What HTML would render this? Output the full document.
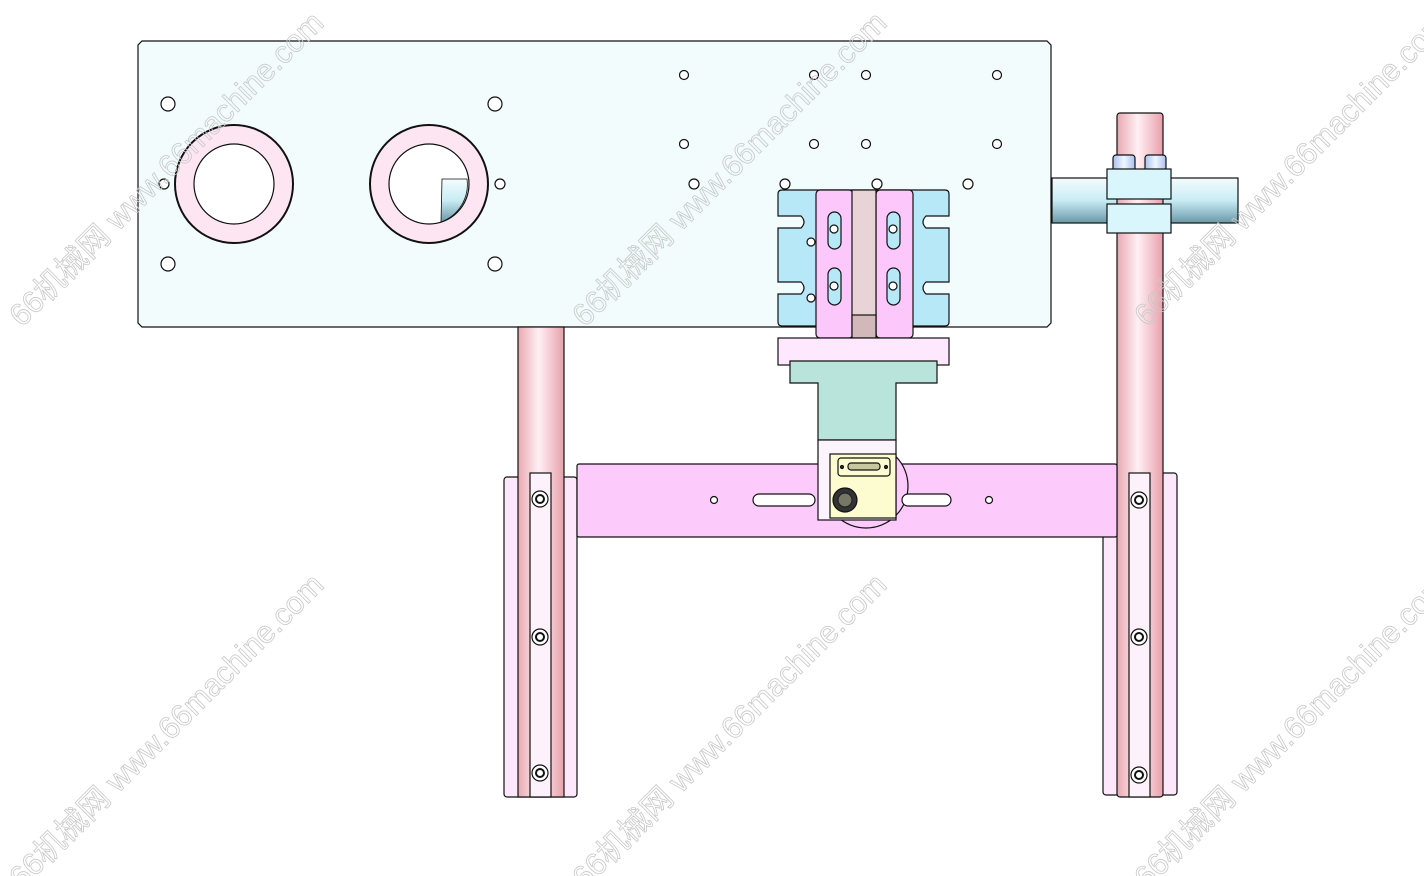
<!DOCTYPE html>
<html><head><meta charset="utf-8"><style>
html,body{margin:0;padding:0;background:#fff;width:1424px;height:876px;overflow:hidden}
svg{display:block}
.wm{font-family:"Liberation Sans","Noto Sans CJK SC",sans-serif;font-size:31px;fill:none;stroke:#c8c8c8;stroke-width:0.8}
</style></head><body>
<svg width="1424" height="876" viewBox="0 0 1424 876" xmlns="http://www.w3.org/2000/svg">
<defs>
<linearGradient id="pk" x1="0" x2="1"><stop offset="0" stop-color="#e8a8b0"/><stop offset="0.45" stop-color="#fff0f4"/><stop offset="1" stop-color="#e8a0ac"/></linearGradient>
<linearGradient id="cy" x1="0" y1="0" x2="0" y2="1"><stop offset="0" stop-color="#f4fcfe"/><stop offset="0.5" stop-color="#c8ecf4"/><stop offset="1" stop-color="#6a98a8"/></linearGradient>
<linearGradient id="bl" x1="0" x2="1"><stop offset="0" stop-color="#a8c0f0"/><stop offset="0.5" stop-color="#f0f8ff"/><stop offset="1" stop-color="#a8c0f0"/></linearGradient>
</defs>
<g stroke="#111" stroke-width="1.2">
<path d="M142 41 H1047 L1051 45 V323 L1047 327 H142 L138 323 V45 Z" fill="#f2fcfd"/>
<g fill="#fff">
<circle cx="168" cy="104" r="7"/><circle cx="495" cy="104" r="7"/><circle cx="168" cy="264" r="7"/><circle cx="495" cy="264" r="7"/>
<circle cx="164" cy="184" r="5"/><circle cx="500" cy="184" r="5"/>
<circle cx="684" cy="75" r="4.5"/><circle cx="814" cy="75" r="4.5"/><circle cx="866" cy="75" r="4.5"/><circle cx="997" cy="75" r="4.5"/>
<circle cx="684" cy="144" r="4.5"/><circle cx="814" cy="144" r="4.5"/><circle cx="866" cy="144" r="4.5"/><circle cx="997" cy="144" r="4.5"/>
<circle cx="694" cy="184" r="5"/><circle cx="785" cy="184" r="5"/><circle cx="877" cy="184" r="5"/><circle cx="968" cy="184" r="5"/>
</g>
<circle cx="234" cy="184" r="59" fill="#fde6f2" stroke-width="2"/><circle cx="234" cy="184" r="40" fill="#fff"/>
<circle cx="429" cy="184" r="59" fill="#fde6f2" stroke-width="2"/><circle cx="429" cy="184" r="40" fill="#fff"/>
<path d="M442 179 H467 A40 40 0 0 1 441 222 Z" fill="url(#cy)" stroke-width="0.8"/>
<rect x="1052" y="178" width="186" height="45" fill="url(#cy)"/>
<rect x="504" y="477" width="73" height="320" rx="3" fill="#fde8fb"/>
<rect x="518" y="327" width="46" height="470" fill="url(#pk)"/>
<rect x="530" y="473" width="21" height="324" fill="#fdf2fb"/>
<rect x="1103" y="473" width="74" height="322" rx="3" fill="#fde8fb"/>
<rect x="1117" y="113" width="46" height="684" rx="3" fill="url(#pk)"/>
<rect x="1129" y="473" width="21" height="324" fill="#fdf2fb"/>
<rect x="1113" y="155" width="22" height="16" rx="3" fill="url(#bl)"/><rect x="1145" y="155" width="21" height="16" rx="3" fill="url(#bl)"/>
<rect x="1107" y="169" width="64" height="30" fill="#d8f6fc"/>
<rect x="1107" y="204" width="64" height="29" fill="#d8f6fc"/>
<g fill="#fff"><circle cx="540" cy="499" r="8"/><circle cx="540" cy="637" r="8"/><circle cx="540" cy="773" r="8"/>
<circle cx="1139" cy="500" r="8"/><circle cx="1139" cy="637" r="8"/><circle cx="1139" cy="775" r="8"/></g>
<g fill="#fff" stroke-width="2"><circle cx="540" cy="499" r="4"/><circle cx="540" cy="637" r="4"/><circle cx="540" cy="773" r="4"/>
<circle cx="1139" cy="500" r="4"/><circle cx="1139" cy="637" r="4"/><circle cx="1139" cy="775" r="4"/></g>
<rect x="577" y="464" width="540" height="73" rx="2" fill="#fccbfb"/>
<circle cx="866" cy="486" r="42" fill="#fccbfb"/>
<rect x="753" y="494" width="62" height="12" rx="6" fill="#fff"/><rect x="902" y="494" width="49" height="12" rx="6" fill="#fff"/>
<circle cx="714" cy="500" r="3.5" fill="#fff"/><circle cx="989" cy="500" r="3.5" fill="#fff"/>
<path d="M782 190 H945 Q949 190 949 194 V216 H926 Q920 222 926 228 H949 V282 H926 Q920 288 926 294 H949 V322 Q949 326 945 326 H782 Q778 326 778 322 V294 H801 Q807 288 801 282 H778 V228 H801 Q807 222 801 216 H778 V194 Q778 190 782 190 Z" fill="#b6e8f8"/>
<circle cx="811" cy="242" r="4" fill="#fff"/><circle cx="811" cy="298" r="4" fill="#fff"/>
<rect x="816" y="190" width="37" height="148" rx="4" fill="#fcc8fc"/>
<rect x="876" y="190" width="37" height="148" rx="4" fill="#fcc8fc"/>
<rect x="852" y="190" width="24" height="148" fill="#e8d4d6"/><rect x="852" y="315" width="24" height="23" fill="#d2b8b8"/>
<g fill="#b6e8f8"><rect x="828" y="212" width="13" height="37" rx="6.5"/><rect x="887" y="212" width="13" height="37" rx="6.5"/><rect x="828" y="268" width="13" height="37" rx="6.5"/><rect x="887" y="268" width="13" height="37" rx="6.5"/></g>
<g fill="#fff"><circle cx="834" cy="229" r="4"/><circle cx="893" cy="229" r="4"/><circle cx="834" cy="286" r="4"/><circle cx="893" cy="286" r="4"/></g>
<rect x="778" y="338" width="171" height="27" fill="#fde8fd"/>
<path d="M790 361 H937 V383 H896 V440 H818 V383 H790 Z" fill="#b8e4dc"/>
<rect x="818" y="440" width="78" height="80" fill="#fcf4fc"/>
<rect x="830" y="454" width="66" height="64" fill="#fcfcd0"/>
<rect x="838" y="458" width="52" height="18" rx="3" fill="#fcfcd0"/>
<rect x="848" y="463" width="32" height="7" rx="3" fill="#c8c8a0"/>
<circle cx="842" cy="467" r="1.5" fill="#333"/><circle cx="886" cy="467" r="1.5" fill="#333"/>
<circle cx="845" cy="500" r="12" fill="#333" stroke="#111"/><circle cx="845" cy="500" r="7" fill="#776" stroke="#222"/>
</g>
<g class="wm">
<text transform="translate(22,328) rotate(-45)">66机械网 www.66machine.com</text>
<text transform="translate(585,328) rotate(-45)">66机械网 www.66machine.com</text>
<text transform="translate(1147,328) rotate(-45)">66机械网 www.66machine.com</text>
<text transform="translate(22,890) rotate(-45)">66机械网 www.66machine.com</text>
<text transform="translate(585,890) rotate(-45)">66机械网 www.66machine.com</text>
<text transform="translate(1147,890) rotate(-45)">66机械网 www.66machine.com</text>
</g>
</svg>
</body></html>
